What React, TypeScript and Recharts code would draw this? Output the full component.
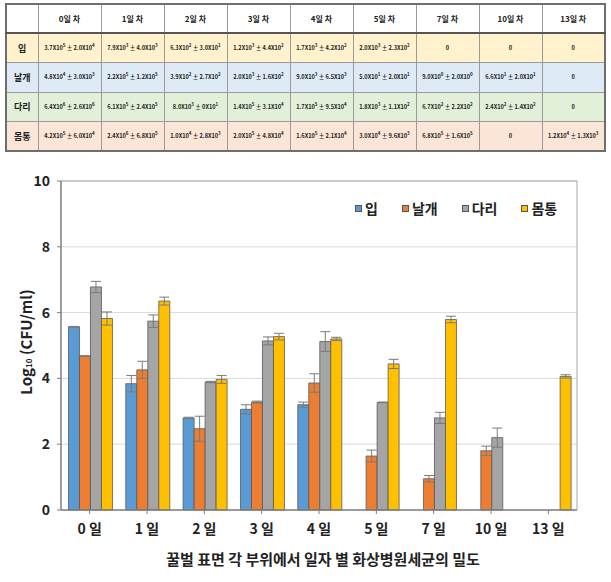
import React from "react";
import { BarChart, Bar, XAxis, YAxis, CartesianGrid, ErrorBar, ReferenceLine } from "recharts";

const days = ["0 일", "1 일", "2 일", "3 일", "4 일", "5 일", "7 일", "10 일", "13 일"];
const tableHeaders = ["0일 차", "1일 차", "2일 차", "3일 차", "4일 차", "5일 차", "7일 차", "10일 차", "13일 차"];
const parts = ["입", "날개", "다리", "몸통"];
const colors = ["#5B9BD5", "#ED7D31", "#A5A5A5", "#FFC000"];
const rowBg = ["#FFF2CC", "#DEEBF7", "#E2F0D9", "#FBE5D6"];

// log10 CFU/ml, null = not detected
const mouth = [5.57, 3.84, 2.8, 3.06, 3.2, null, null, null, null];
const mouthErr = [0.01, 0.25, 0.02, 0.14, 0.08, null, null, null, null];
const wing = [4.68, 4.26, 2.47, 3.28, 3.86, 1.64, 0.95, 1.8, null];
const wingErr = [0.01, 0.26, 0.38, 0.03, 0.28, 0.18, 0.1, 0.14, null];
const leg = [6.78, 5.74, 3.89, 5.14, 5.12, 3.27, 2.8, 2.2, null];
const legErr = [0.17, 0.19, 0.02, 0.12, 0.3, 0.01, 0.17, 0.29, null];
const body = [5.82, 6.35, 3.97, 5.27, 5.2, 4.44, 5.79, null, 4.06];
const bodyErr = [0.2, 0.12, 0.12, 0.1, 0.05, 0.14, 0.1, null, 0.05];

const mouthCounts = ["3.7X10^5 ± 2.0X10^4", "7.9X10^3 ± 4.0X10^3", "6.3X10^2 ± 3.0X10^1", "1.2X10^3 ± 4.4X10^2", "1.7X10^3 ± 4.2X10^2", "2.0X10^3 ± 2.3X10^2", "0", "0", "0"];
const wingCounts = ["4.8X10^4 ± 3.0X10^3", "2.2X10^5 ± 1.2X10^5", "3.9X10^2 ± 2.7X10^2", "2.0X10^3 ± 1.6X10^2", "9.0X10^3 ± 6.5X10^3", "5.0X10^1 ± 2.0X10^1", "9.0X10^0 ± 2.0X10^0", "6.6X10^1 ± 2.0X10^1", "0"];
const legCounts = ["6.4X10^6 ± 2.6X10^6", "6.1X10^5 ± 2.4X10^5", "8.0X10^3 ± 0X10^1", "1.4X10^5 ± 3.1X10^4", "1.7X10^5 ± 9.5X10^4", "1.8X10^3 ± 1.1X10^2", "6.7X10^2 ± 2.2X10^2", "2.4X10^2 ± 1.4X10^2", "0"];
const bodyCounts = ["4.2X10^5 ± 6.0X10^4", "2.4X10^6 ± 6.8X10^5", "1.0X10^4 ± 2.8X10^3", "2.0X10^5 ± 4.8X10^4", "1.6X10^5 ± 2.1X10^4", "3.0X10^4 ± 9.6X10^3", "6.8X10^5 ± 1.6X10^5", "0", "1.2X10^4 ± 1.3X10^3"];

const yTicks = [0, 2, 4, 6, 8, 10];
const FONT = "'Noto Sans CJK KR', 'Open Sans', sans-serif";

const data = days.map((d, i) => ({
  day: d,
  mouth: mouth[i], mouthErr: mouthErr[i],
  wing: wing[i], wingErr: wingErr[i],
  leg: leg[i], legErr: legErr[i],
  body: body[i], bodyErr: bodyErr[i],
}));

const series = [
  { key: "mouth", err: "mouthErr" },
  { key: "wing", err: "wingErr" },
  { key: "leg", err: "legErr" },
  { key: "body", err: "bodyErr" },
];

function Sci({ text }: { text: string }) {
  // "3.7X10^5" -> 3.7X10 with superscript 5
  const bits = text.split(/\^(\d+)/);
  return (
    <>
      {bits.map((b, i) =>
        i % 2 === 1 ? (
          <span key={i} style={{ fontSize: 4.5, verticalAlign: "3px", lineHeight: 0 }}>{b}</span>
        ) : (
          <span key={i}>{b}</span>
        )
      )}
    </>
  );
}

function CountTable() {
  const rows = [mouthCounts, wingCounts, legCounts, bodyCounts];
  const cell: React.CSSProperties = {
    border: "1px solid #9a9a9a",
    textAlign: "center",
    padding: 0,
    whiteSpace: "nowrap",
  };
  return (
    <table
      style={{
        position: "absolute",
        left: 5,
        top: 3,
        width: 599,
        borderCollapse: "collapse",
        tableLayout: "fixed",
        fontFamily: FONT,
        color: "#222",
        border: "2px solid #6e6e6e",
      }}
    >
      <colgroup>
        <col style={{ width: 32 }} />
        {tableHeaders.map((h) => (
          <col key={h} style={{ width: 63 }} />
        ))}
      </colgroup>
      <thead>
        <tr style={{ height: 29 }}>
          <th style={{ ...cell, borderBottom: "2px solid #555" }}></th>
          {tableHeaders.map((h) => (
            <th key={h} style={{ ...cell, borderBottom: "2px solid #555", fontSize: 8, fontWeight: 700 }}>
              {h}
            </th>
          ))}
        </tr>
      </thead>
      <tbody>
        {rows.map((r, ri) => (
          <tr key={ri} style={{ height: 29.5, background: rowBg[ri] }}>
            <td style={{ ...cell, fontSize: 9, fontWeight: 700 }}>{parts[ri]}</td>
            {r.map((v, ci) => (
              <td key={ci} style={{ ...cell, fontSize: 5.6, fontWeight: 700 }}>
                <Sci text={v} />
              </td>
            ))}
          </tr>
        ))}
      </tbody>
    </table>
  );
}

function LegendBox() {
  return (
    <div style={{ position: "absolute", left: 355, top: 198, display: "flex", alignItems: "center", fontFamily: FONT,
      fontWeight: 700, fontSize: 14, color: "#222", lineHeight: "20px" }}>
      {parts.map((p, i) => (
        <span key={p} style={{ display: "flex", alignItems: "center", marginRight: 24 }}>
          <span style={{ width: 5, height: 5, background: colors[i], border: "1px solid #555", marginRight: 3 }} />
          {p}
        </span>
      ))}
    </div>
  );
}

function YLabel() {
  const x = 25;
  const y = 177;
  return (
    <text x={x} y={y} transform={`rotate(-90, ${x}, ${y})`} textAnchor="middle" dominantBaseline="central"
      fontFamily={FONT} fontWeight={700} fontSize={15} fill="#222">
      Log<tspan fontSize={8} dy={3}>10</tspan>
      <tspan dy={-3}> (CFU/ml)</tspan>
    </text>
  );
}

export default function App() {
  return (
    <div style={{ position: "absolute", left: 0, top: 0, width: 611, height: 582, background: "#fff" }}>
      <CountTable />
      <div style={{ position: "absolute", left: 0, top: 165 }}>
        <BarChart width={611} height={417} data={data} margin={{ top: 16, right: 0, bottom: 0, left: 0 }}
          barCategoryGap="13%" barGap={0}>
          <CartesianGrid vertical={false} stroke="#d9d9d9" yAxisId="left" />
          <XAxis dataKey="day" height={72} tickSize={4} tickMargin={10}
            axisLine={{ stroke: "#7f7f7f", strokeWidth: 1.5 }} tickLine={{ stroke: "#7f7f7f" }}
            tick={{ fontFamily: FONT, fontSize: 14, fontWeight: 700, fill: "#222" }}
            label={{ value: "꿀벌 표면 각 부위에서 일자 별 화상병원세균의 밀도", position: "insideBottom", offset: 17, dx: 4,
              style: { fontFamily: FONT, fontSize: 15, fontWeight: 700, fill: "#222" } }} />
          <YAxis yAxisId="left" width={61} domain={[0, 10]} ticks={yTicks} interval={0} tickSize={4} tickMargin={7}
            axisLine={{ stroke: "#7f7f7f", strokeWidth: 1.5 }} tickLine={{ stroke: "#7f7f7f" }}
            tick={{ fontFamily: FONT, fontSize: 14, fontWeight: 700, fill: "#222" }}
            label={{ content: () => <YLabel /> }} />
          <YAxis yAxisId="right" orientation="right" width={34} domain={[0, 10]} tick={false} tickLine={false}
            axisLine={{ stroke: "#a6a6a6" }} />
          <ReferenceLine yAxisId="left" y={10} stroke="#a6a6a6" />
          {series.map((s, i) => (
            <Bar key={s.key} yAxisId="left" dataKey={s.key} fill={colors[i]} stroke="#595959" strokeWidth={0.8}
              isAnimationActive={false}>
              <ErrorBar dataKey={s.err} width={5} stroke="#7a7a7a" strokeWidth={1} direction="y" />
            </Bar>
          ))}
        </BarChart>
      </div>
      <LegendBox />
    </div>
  );
}
